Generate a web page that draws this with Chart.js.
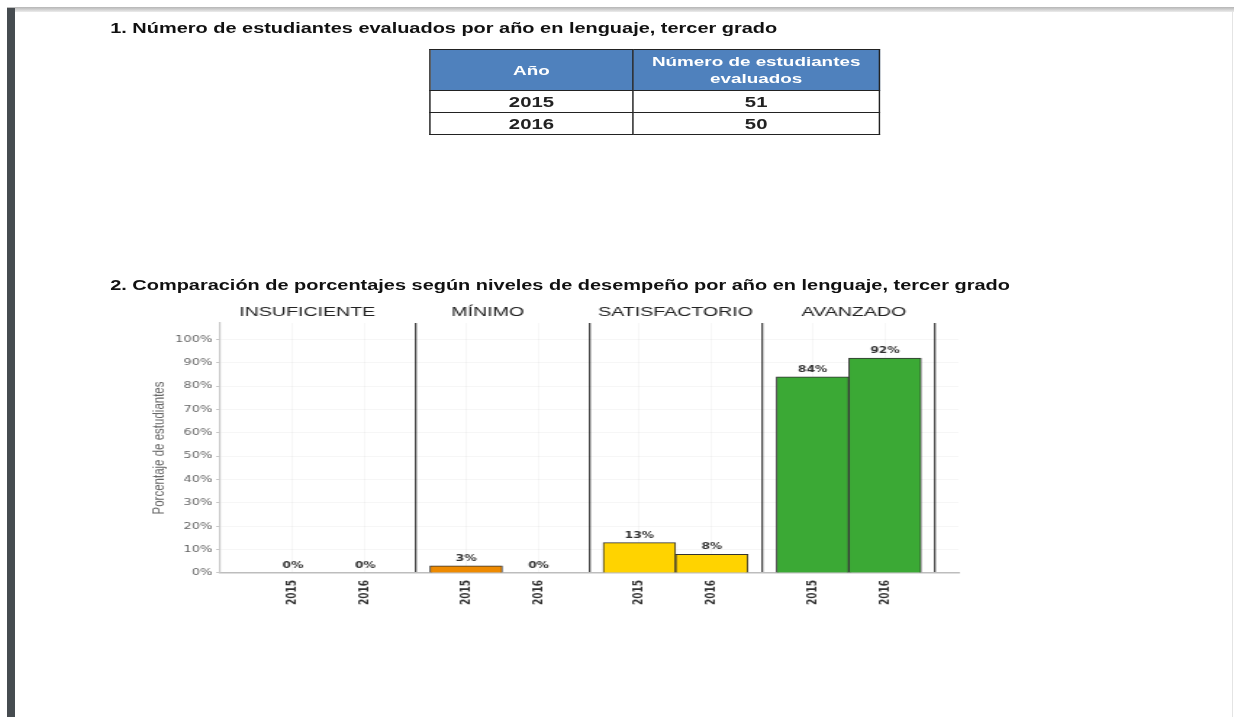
<!DOCTYPE html>
<html><head><meta charset="utf-8">
<script src="https://cdn.jsdelivr.net/npm/chart.js@4.4.1/dist/chart.umd.min.js"></script>
<style>
html,body{margin:0;padding:0;background:#fff;width:1234px;height:717px;overflow:hidden;font-family:"Liberation Sans",Arial,sans-serif;}
#topline{position:absolute;left:7px;top:7px;width:1227px;height:5px;background:linear-gradient(#b5b5b5,#ececec);}
#leftbar{position:absolute;left:7px;top:8px;width:8px;height:709px;background:#464c50;}
#rightline{position:absolute;left:1232px;top:11px;width:1px;height:706px;background:#e4e4e4}
#page{position:absolute;left:0;top:0;width:851px;height:717px;transform:scaleX(1.45);transform-origin:0 0;}
.h{position:absolute;left:76px;font-weight:bold;font-size:13.75px;color:#111;white-space:nowrap;}
#tbl{position:absolute;left:296px;top:49px;border-collapse:collapse;width:310px;table-layout:fixed;}
#tbl th,#tbl td{border:1.5px solid #222;text-align:center;padding:0;}
#tbl th{background:#4F81BD;color:#fff;font-weight:bold;font-size:13px;height:40px;line-height:17px;}
#tbl td{font-size:14px;font-weight:bold;color:#222;height:21px;line-height:16px;}
#chartBox{position:absolute;left:96.6px;top:296px;width:579px;height:318px;}
</style></head>
<body>
<div id="topline"></div><div id="leftbar"></div><div id="rightline"></div>
<div id="page">
<div class="h" style="top:21px">1. Número de estudiantes evaluados por año en lenguaje, tercer grado</div>
<table id="tbl">
<colgroup><col style="width:140px"><col style="width:170px"></colgroup>
<tr><th>Año</th><th>Número de estudiantes<br>evaluados</th></tr>
<tr><td id="r0y"></td><td id="r0n"></td></tr>
<tr><td id="r1y"></td><td id="r1n"></td></tr>
</table>
<div class="h" style="top:278px">2. Comparación de porcentajes según niveles de desempeño por año en lenguaje, tercer grado</div>
<div id="chartBox"><canvas id="c"></canvas></div>
</div>
<script>
// ---- data ----
const tableYears = ['2015', '2016'];
const tableStudents = [51, 50];
const levels = ['INSUFICIENTE', 'MÍNIMO', 'SATISFACTORIO', 'AVANZADO'];
const years = ['2015', '2016'];
const values2015 = [0, 3, 13, 84];
const values2016 = [0, 0, 8, 92];
const yTickValues = [0, 10, 20, 30, 40, 50, 60, 70, 80, 90, 100];
const levelColors = ['#D7301F', '#EE8A00', '#FFD300', '#3BA935'];

// table
tableYears.forEach((y, i) => {
  document.getElementById('r' + i + 'y').textContent = y;
  document.getElementById('r' + i + 'n').textContent = tableStudents[i];
});

// ---- chart ----
const PAIR = 0.836; // fraction of a panel occupied by the two bars
const xMin = -0.127, xMax = 4.133;
const seriesByYear = [values2015, values2016];
const points = [], colors = [], barTicks = [];
levels.forEach((lv, p) => {
  years.forEach((yr, k) => {
    const x = p + 0.5 + (k === 0 ? -1 : 1) * PAIR / 4;
    points.push({x: x, y: seriesByYear[k][p]});
    colors.push(levelColors[p]);
    barTicks.push(x);
  });
});

const valueLabels = {
  id: 'valueLabels',
  afterDatasetsDraw(chart) {
    const ctx = chart.ctx;
    const meta = chart.getDatasetMeta(0);
    ctx.save();
    ctx.font = 'bold 8.5px "DejaVu Sans"';
    ctx.fillStyle = '#333';
    ctx.textAlign = 'center';
    ctx.textBaseline = 'bottom';
    meta.data.forEach((el, i) => {
      ctx.fillText(points[i].y + '%', el.x, el.y - 3);
    });
    ctx.restore();
  }
};
const panelTitles = {
  id: 'panelTitles',
  afterDraw(chart, args, opts) {
    const ctx = chart.ctx, xs = chart.scales.x;
    ctx.save();
    ctx.font = '13.5px "Liberation Sans"';
    ctx.fillStyle = '#222';
    ctx.textAlign = 'center';
    ctx.textBaseline = 'middle';
    levels.forEach((lv, p) => {
      const cx = xs.getPixelForValue(p + 0.5) + opts.shift[p];
      ctx.fillText(lv, cx, chart.chartArea.top - 11);
    });
    ctx.restore();
  }
};

new Chart(document.getElementById('c'), {
  type: 'bar',
  data: {
    datasets: [{
      data: points,
      backgroundColor: colors,
      borderColor: '#333',
      borderWidth: 1,
      categoryPercentage: 1,
      barPercentage: 1,
      xAxisID: 'x',
      yAxisID: 'y'
    }]
  },
  plugins: [valueLabels, panelTitles],
  options: {
    responsive: true,
    maintainAspectRatio: false,
    animation: false,
    layout: {padding: {top: 27, right: 15, left: 5.5, bottom: 2}},
    plugins: {
      legend: {display: false},
      tooltip: {enabled: false},
      panelTitles: {shift: [-15, -10, 0, 3.5]}
    },
    scales: {
      x: {
        type: 'linear', position: 'bottom', min: xMin, max: xMax, offset: false,
        afterBuildTicks: (s) => { s.ticks = barTicks.map(v => ({value: v})); },
        ticks: {
          autoSkip: false, minRotation: 90, maxRotation: 90, padding: 7,
          font: {family: 'DejaVu Sans', size: 9, weight: 'bold'}, color: '#333',
          callback: (v, i) => years[i % 2]
        },
        grid: {offset: false, color: 'rgba(0,0,0,0.035)', drawTicks: false},
        border: {color: '#bdbdbd', width: 1.5}
      },
      sep: {
        type: 'linear', position: 'bottom', min: xMin, max: xMax, offset: false,
        afterBuildTicks: (s) => { s.ticks = levels.map((l, p) => ({value: p + 1})); },
        ticks: {display: false},
        grid: {offset: false, color: '#4a4a4a', lineWidth: 1.3, drawTicks: false},
        border: {display: false}
      },
      y: {
        type: 'linear', min: 0, max: 107,
        afterBuildTicks: (s) => { s.ticks = yTickValues.map(v => ({value: v})); },
        ticks: {
          font: {family: 'DejaVu Sans', size: 9}, color: '#666', padding: 2.5,
          callback: (v) => v + '%'
        },
        grid: {color: 'rgba(0,0,0,0.035)', tickLength: 3, tickColor: '#c8c8c8'},
        border: {color: '#c8c8c8', width: 1.2},
        title: {
          display: true, text: 'Porcentaje de estudiantes', color: '#666',
          font: {family: 'Liberation Sans', size: 11.5},
          padding: {top: 0, bottom: 2}
        }
      }
    }
  }
});
</script>
</body></html>
